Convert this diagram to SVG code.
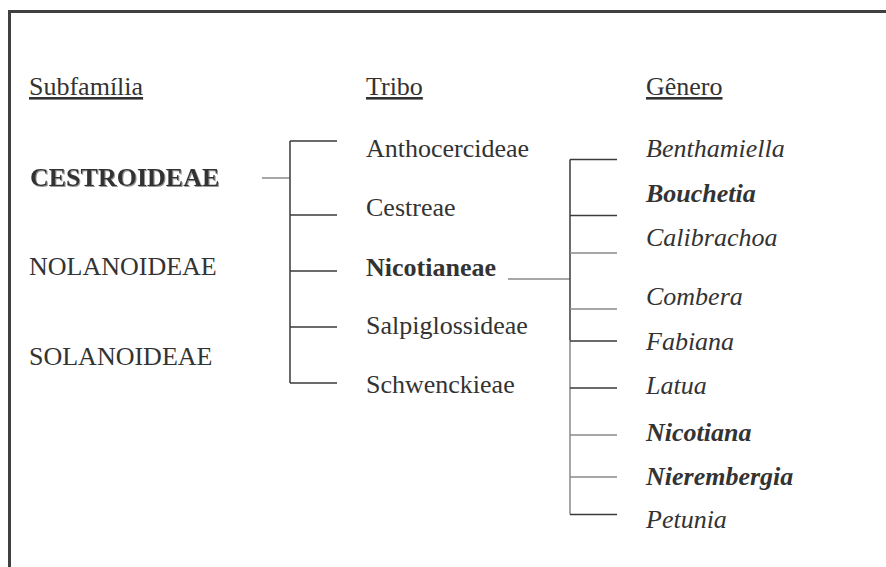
<svg xmlns="http://www.w3.org/2000/svg" width="886" height="567" viewBox="0 0 886 567">
  <style>
    text { font-family: "Liberation Serif", "Times New Roman", serif; font-size: 26px; fill: #333; }
    .b { font-weight: bold; }
    .i { font-style: italic; }
    .head { text-decoration: underline; }
    .frame { fill: none; stroke: #404040; stroke-width: 3; }
    .dk { stroke: #3a3a3a; stroke-width: 1.5; fill: none; }
    .lt { stroke: #8a8a8a; stroke-width: 1.5; fill: none; }
  </style>
  <defs>
    <filter id="shade" x="-5%" y="-20%" width="115%" height="150%">
      <feOffset in="SourceAlpha" dx="1.2" dy="1.2" result="off"/>
      <feFlood flood-color="#999" result="c"/>
      <feComposite in="c" in2="off" operator="in" result="sh"/>
      <feMerge><feMergeNode in="sh"/><feMergeNode in="SourceGraphic"/></feMerge>
    </filter>
  </defs>

  <rect width="886" height="567" fill="#fff"/>
  <!-- open frame: top and left edges -->
  <path class="frame" d="M9.5 569 V11.5 H890"/>

  <!-- column headings -->
  <g id="headings">
    <text class="head" x="29" y="95">Subfamília</text>
    <text class="head" x="366" y="95">Tribo</text>
    <text class="head" x="646" y="95">Gênero</text>
  </g>

  <!-- subfamilies -->
  <g id="sub-cestroideae"><text class="b" x="30" y="186" filter="url(#shade)">CESTROIDEAE</text></g>
  <g id="sub-nolanoideae"><text x="29" y="275">NOLANOIDEAE</text></g>
  <g id="sub-solanoideae"><text x="29" y="365">SOLANOIDEAE</text></g>

  <!-- tribes -->
  <g id="tribe-anthocercideae"><text x="366" y="157">Anthocercideae</text></g>
  <g id="tribe-cestreae"><text x="366" y="216">Cestreae</text></g>
  <g id="tribe-nicotianeae"><text class="b" x="366" y="276">Nicotianeae</text></g>
  <g id="tribe-salpiglossideae"><text x="366" y="334">Salpiglossideae</text></g>
  <g id="tribe-schwenckieae"><text x="366" y="393">Schwenckieae</text></g>

  <!-- genera -->
  <g id="genus-benthamiella"><text class="i" x="646" y="157">Benthamiella</text></g>
  <g id="genus-bouchetia"><text class="b i" x="646" y="202">Bouchetia</text></g>
  <g id="genus-calibrachoa"><text class="i" x="646" y="246">Calibrachoa</text></g>
  <g id="genus-combera"><text class="i" x="646" y="305">Combera</text></g>
  <g id="genus-fabiana"><text class="i" x="646" y="350">Fabiana</text></g>
  <g id="genus-latua"><text class="i" x="646" y="394">Latua</text></g>
  <g id="genus-nicotiana"><text class="b i" x="646" y="441">Nicotiana</text></g>
  <g id="genus-nierembergia"><text class="b i" x="646" y="485">Nierembergia</text></g>
  <g id="genus-petunia"><text class="i" x="646" y="528">Petunia</text></g>

  <!-- connectors -->
  <g id="connectors">
    <!-- CESTROIDEAE to its tribes -->
    <path class="lt" d="M262 178 H290"/>
    <path class="dk" d="M290 141 V383"/>
    <path class="dk" d="M290 141 H337 M290 215 H337 M290 271 H337 M290 327 H337 M290 383 H337"/>
    <!-- Nicotianeae to its genera -->
    <path class="lt" d="M508 279 H570"/>
    <path class="dk" d="M570 159.5 V340"/>
    <path class="lt" d="M570 340 V514.5"/>
    <path class="dk" d="M570 159.5 H617 M570 215.5 H617 M570 341 H617 M570 388 H617 M570 514.5 H617"/>
    <path class="lt" d="M570 253 H617 M570 309 H617 M570 435 H617 M570 477 H617"/>
  </g>
</svg>
